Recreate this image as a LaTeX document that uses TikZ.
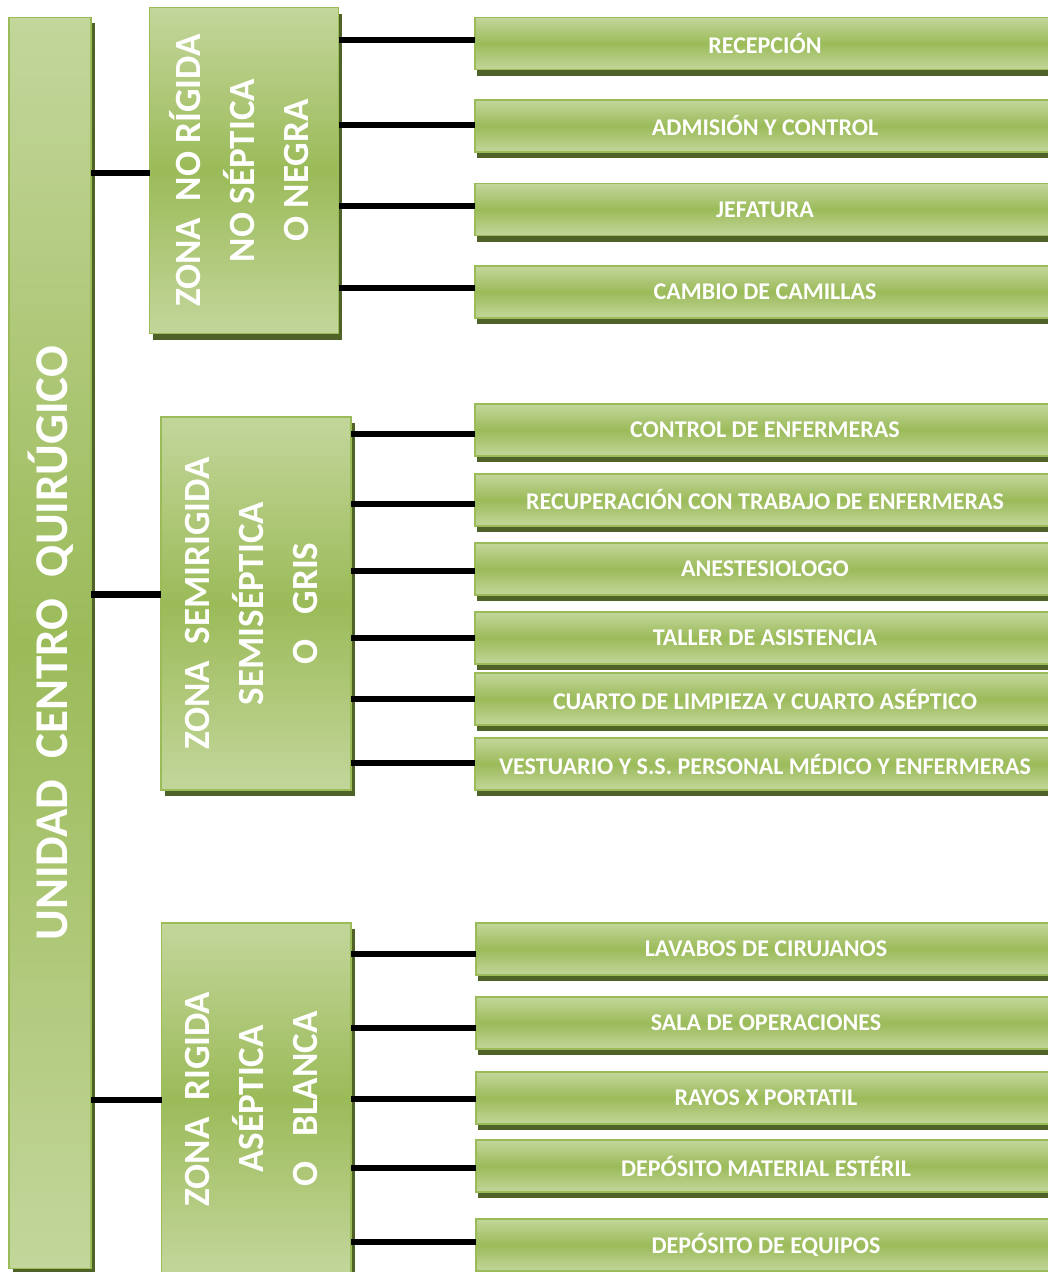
\documentclass[tikz,border=0pt]{standalone}
\usepackage{fontspec}
\setmainfont{Carlito}
\usetikzlibrary{shadows}
\definecolor{gl}{HTML}{C3D69B}
\definecolor{gd}{HTML}{9BBB59}
\definecolor{gs}{HTML}{4F6228}
\tikzset{
  gbox/.style={rectangle, draw=gd, line width=1.6pt, top color=gl, bottom color=gl, middle color=gd, inner sep=0pt, outer sep=0pt},
  leaf/.style={gbox, minimum width=580pt, minimum height=52pt, anchor=west, text=white,
    font=\bfseries\fontsize{24}{27}\selectfont,
    drop shadow={shadow xshift=2pt, shadow yshift=-6pt, fill=gs, opacity=1}},
  zone/.style={gbox, anchor=north west,
    drop shadow={shadow xshift=3.5pt, shadow yshift=-6pt, fill=gs, opacity=1}},
  zonetext/.style={rotate=90, text=white, font=\bfseries\fontsize{37}{54}\selectfont, align=center, inner sep=0pt},
  maintext/.style={rotate=90, text=white, font=\bfseries\fontsize{47}{56}\selectfont, inner sep=0pt},
  link/.style={line width=6.5pt, draw=black},
}
\begin{document}
\begin{tikzpicture}
\useasboundingbox (0,0) rectangle (1048pt,-1272pt);
\clip (0,0) rectangle (1048pt,-1272pt);

% main box
\node[gbox, anchor=north west, minimum width=82pt, minimum height=1251pt,
  drop shadow={shadow xshift=4pt, shadow yshift=-5pt, fill=gs, opacity=1}] (main) at (9pt,-17.5pt) {};

% zones
\node[zone, minimum width=189pt, minimum height=326pt] (z1) at (149.5pt,-7.5pt) {};
\node[zone, minimum width=190pt, minimum height=373pt] (z2) at (161pt,-417pt) {};
\node[zone, minimum width=189.5pt, minimum height=350pt] (z3) at (161.5pt,-923pt) {};

% leaves zone 1
\foreach \n/\y/\d/\t in {
  r1/43.5/3.5/RECEPCIÓN,
  r2/126/1/ADMISIÓN Y CONTROL,
  r3/209.5/3.5/JEFATURA,
  r4/292/4/CAMBIO DE CAMILLAS}{
  \node[leaf] (\n) at (475pt,-\y pt) {\t};
  \coordinate (k\n) at ([yshift=\d]\n.west);
}
% leaves zone 2
\foreach \n/\y/\d/\t in {
  r5/430/-4/CONTROL DE ENFERMERAS,
  r6/500/-4/RECUPERACIÓN CON TRABAJO DE ENFERMERAS,
  r7/569/-2/ANESTESIOLOGO,
  r8/638/0/TALLER DE ASISTENCIA,
  r9/699/0/CUARTO DE LIMPIEZA Y CUARTO ASÉPTICO,
  r10/764/1/VESTUARIO Y S.S. PERSONAL MÉDICO Y ENFERMERAS}{
  \node[leaf] (\n) at (475pt,-\y pt) {\t};
  \coordinate (k\n) at ([yshift=\d]\n.west);
}
% leaves zone 3
\foreach \n/\y/\d/\t in {
  r11/949/-5/LAVABOS DE CIRUJANOS,
  r12/1023/-5/SALA DE OPERACIONES,
  r13/1098/-1/RAYOS X PORTATIL,
  r14/1166/-2/DEPÓSITO MATERIAL ESTÉRIL,
  r15/1245/3/DEPÓSITO DE EQUIPOS}{
  \node[leaf] (\n) at (476pt,-\y pt) {\t};
  \coordinate (k\n) at ([yshift=\d]\n.west);
}

% connectors main -> zones
\coordinate (m1) at ([yshift=-2.5pt]z1.west);
\coordinate (m2) at ([yshift=9pt]z2.west);
\coordinate (m3) at ([yshift=-2pt]z3.west);
\draw[link] (m1 -| main.east) -- (m1);
\draw[link] (m2 -| main.east) -- (m2);
\draw[link] (m3 -| main.east) -- (m3);

% connectors zones -> leaves
\foreach \n in {r1,r2,r3,r4}{\draw[link] (k\n -| z1.east) -- (k\n);}
\foreach \n in {r5,r6,r7,r8,r9,r10}{\draw[link] (k\n -| z2.east) -- (k\n);}
\foreach \n in {r11,r12,r13,r14,r15}{\draw[link] (k\n -| z3.east) -- (k\n);}

% texts
\node[maintext] (tm) at ([xshift=1pt]main.center) {UNIDAD\ \ CENTRO\ \ QUIRÚGICO};
\node[zonetext] (t1) at ([xshift=-5pt]z1.center) {ZONA\ \ NO RÍGIDA\\NO SÉPTICA\\O NEGRA};
\node[zonetext] (t2) at ([xshift=-5pt]z2.center) {ZONA\ \ SEMIRIGIDA\\SEMISÉPTICA\\O\ \ \ GRIS};
\node[zonetext] (t3) at ([xshift=-5pt,yshift=-1pt]z3.center) {ZONA\ \ RIGIDA\\ASÉPTICA\\O\ \ \ BLANCA};
\end{tikzpicture}
\end{document}
